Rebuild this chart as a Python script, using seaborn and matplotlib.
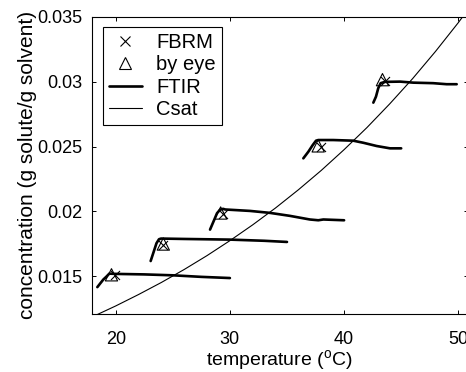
import numpy as np
import pandas as pd
import matplotlib
matplotlib.use("Agg")
import matplotlib.pyplot as plt
from matplotlib.lines import Line2D
import seaborn as sns

# Solubility curve (Csat) read along the temperature axis
csat_T = [17.5, 18.0, 20.0, 22.0, 24.0, 26.0, 28.0, 30.0, 32.0, 34.0, 36.0,
          38.0, 40.0, 42.0, 44.0, 46.0, 48.0, 50.0, 52.0]
csat_C = [0.01170, 0.01190, 0.01272, 0.01360, 0.01453, 0.01553, 0.01660,
          0.01775, 0.01897, 0.02027, 0.02167, 0.02316, 0.02476, 0.02646,
          0.02829, 0.03023, 0.03232, 0.03454, 0.03692]

# FTIR concentration traces, one per heating run
ftir_T1 = [18.39, 18.91, 19.21, 19.44, 19.94, 22.5, 25.0, 27.5, 30.0]
ftir_C1 = [0.01417, 0.01475, 0.01500, 0.01521, 0.01519, 0.01515, 0.01508, 0.01496, 0.01487]

ftir_T2 = [23.06, 23.31, 23.57, 23.79, 23.97, 26.0, 30.0, 33.0, 35.0]
ftir_C2 = [0.01618, 0.01685, 0.01755, 0.01786, 0.01791, 0.01788, 0.01783, 0.01774, 0.01765]

ftir_T3 = [28.26, 28.61, 28.87, 29.13, 29.40, 29.6, 31.76, 33.5, 35.25, 37.0, 37.74, 38.18, 40.0]
ftir_C3 = [0.01860, 0.01932, 0.01986, 0.02013, 0.02020, 0.02015, 0.02004, 0.01989, 0.01966,
           0.01938, 0.01932, 0.01938, 0.01932]

ftir_T4 = [36.43, 36.87, 37.25, 37.54, 37.74, 39.05, 40.8, 41.68, 42.85, 44.02, 45.0]
ftir_C4 = [0.02409, 0.02460, 0.02511, 0.02545, 0.02550, 0.02550, 0.02545, 0.02529, 0.02504,
           0.02486, 0.02486]

ftir_T5 = [42.56, 42.79, 42.99, 43.20, 43.58, 44.9, 46.06, 47.8, 48.98, 49.86]
ftir_C5 = [0.02838, 0.02884, 0.02949, 0.02988, 0.02998, 0.03000, 0.02992, 0.02988, 0.02980, 0.02980]

# Saturation points detected by FBRM and by eye
fbrm_T = [19.94, 24.17, 29.36, 38.02, 43.56]
fbrm_C = [0.01510, 0.01740, 0.01984, 0.02494, 0.03008]
eye_T = [19.63, 24.17, 29.19, 37.73, 43.36]
eye_C = [0.01512, 0.01749, 0.01988, 0.02505, 0.03015]

x_ticks = [20, 30, 40, 50]
y_ticks = [0.015, 0.02, 0.025, 0.03, 0.035]
y_tick_labels = ["0.015", "0.02", "0.025", "0.03", "0.035"]

runs = [(ftir_T1, ftir_C1), (ftir_T2, ftir_C2), (ftir_T3, ftir_C3),
        (ftir_T4, ftir_C4), (ftir_T5, ftir_C5)]
ftir = pd.concat(
    [pd.DataFrame({"T": t, "C": c, "run": i}) for i, (t, c) in enumerate(runs)],
    ignore_index=True,
)

sns.set_style("ticks")
plt.rcParams["font.family"] = ["Liberation Sans", "DejaVu Sans"]
plt.rcParams["text.color"] = "black"
plt.rcParams["axes.labelcolor"] = "black"
plt.rcParams["xtick.color"] = "black"
plt.rcParams["ytick.color"] = "black"
plt.rcParams["axes.linewidth"] = 0.8

fig = plt.figure(figsize=(4.66, 3.72), dpi=100)
ax = fig.add_axes([91.5 / 466, 1 - 314 / 372, (468 - 91.5) / 466, (314 - 16.7) / 372])

sns.lineplot(x=csat_T, y=csat_C, ax=ax, color="black", linewidth=0.8, sort=False)
sns.lineplot(data=ftir, x="T", y="C", units="run", estimator=None, sort=False,
             ax=ax, color="black", linewidth=1.9, legend=False)
sns.scatterplot(x=eye_T, y=eye_C, ax=ax, marker="^", s=78, facecolor="none",
                edgecolor="black", linewidth=0.8, zorder=5)
sns.scatterplot(x=fbrm_T, y=fbrm_C, ax=ax, marker="x", s=42, color="black",
                linewidth=0.8, zorder=5)

ax.set_xlim(17.88, 50.85)
ax.set_ylim(0.0121, 0.035)
ax.set_xticks(x_ticks)
ax.set_yticks(y_ticks)
ax.set_yticklabels(y_tick_labels)
ax.tick_params(direction="in", length=3.2, width=0.7, top=True, right=True,
               labelsize=13, colors="black")
ax.tick_params(axis="x", pad=12)
ax.tick_params(axis="y", pad=6.5)
for sp in ax.spines.values():
    sp.set_visible(True)
    sp.set_color("black")
    sp.set_linewidth(0.8)

ax.set_xlabel(r"temperature ($\mathregular{^{o}}$C)", fontsize=14, labelpad=0)
ax.set_ylabel("concentration (g solute/g solvent)", fontsize=15, labelpad=0)

handles = [
    Line2D([], [], marker="x", linestyle="none", color="black", markersize=6.5,
           markeredgewidth=0.8),
    Line2D([], [], marker="^", linestyle="none", markerfacecolor="none",
           markeredgecolor="black", markersize=9, markeredgewidth=0.8),
    Line2D([], [], color="black", linewidth=1.9),
    Line2D([], [], color="black", linewidth=0.8),
]
leg = ax.legend(handles, ["FBRM", "by eye", "FTIR", "Csat"], loc="upper left",
                bbox_to_anchor=(102.7 / 466, 1 - 26.7 / 372),
                bbox_transform=fig.transFigure, borderaxespad=0,
                fontsize=14.5, handlelength=1.65, handletextpad=0.7,
                borderpad=0.3, labelspacing=0.17, fancybox=False,
                framealpha=1, edgecolor="black")
leg.get_frame().set_linewidth(0.8)
for t in leg.get_texts():
    t.set_color("black")

fig.savefig("out.png", dpi=100)
